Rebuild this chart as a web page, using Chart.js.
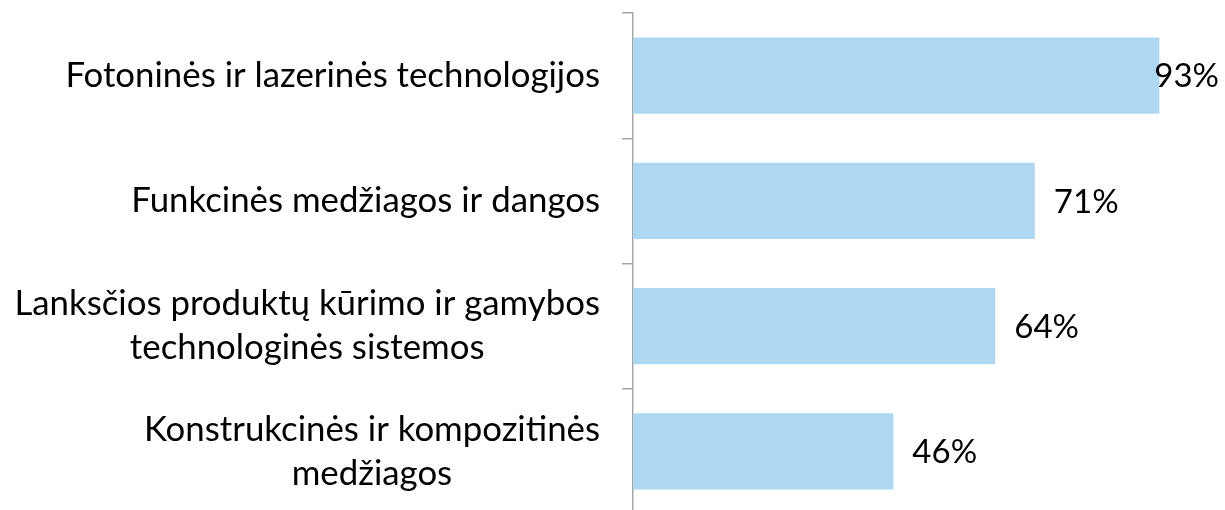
<!DOCTYPE html>
<html>
<head>
<meta charset="utf-8">
<script src="https://cdn.jsdelivr.net/npm/chart.js@4"></script>
<style>
  html, body { margin: 0; padding: 0; background: #ffffff; overflow: hidden; }
  #wrap { width: 1225px; height: 510px; overflow: hidden; position: relative; }
  #box { width: 1225px; height: 520px; position: absolute; left: 0; top: 0; }
</style>
</head>
<body>
<div id="wrap"><div id="box"><canvas id="c"></canvas></div></div>
<script>
const categories = [
  ['Fotoninės ir lazerinės technologijos'],
  ['Funkcinės medžiagos ir dangos'],
  ['Lanksčios produktų kūrimo ir gamybos', 'technologinės sistemos'],
  ['Konstrukcinės ir kompozitinės', 'medžiagos']
];
const values = [93, 71, 64, 46];
const valueSuffix = '%';

const FONT = 'Lato';
const LABEL_SIZE = 34.8;
const VALUE_SIZE = 33;
const LINE_H = 44;
const AXIS_COLOR = '#a6a6a6';

const labelPlugin = {
  id: 'labelPlugin',
  afterDraw(chart) {
    const ctx = chart.ctx;
    const yScale = chart.scales.y;
    const meta = chart.getDatasetMeta(0);
    ctx.save();
    ctx.fillStyle = '#000000';
    ctx.font = LABEL_SIZE + 'px ' + FONT;
    ctx.textBaseline = 'middle';
    // category labels: block right-aligned, lines centered within block
    const rightEdge = chart.chartArea.left - 33;
    categories.forEach((lines, i) => {
      const y = yScale.getPixelForValue(i);
      const w = Math.max(...lines.map(l => ctx.measureText(l).width));
      const cx = rightEdge - w / 2;
      ctx.textAlign = 'center';
      lines.forEach((l, k) => {
        ctx.fillText(l, cx, y + (k - (lines.length - 1) / 2) * LINE_H);
      });
    });
    // value labels
    ctx.font = VALUE_SIZE + 'px ' + FONT;
    ctx.textAlign = 'left';
    meta.data.forEach((bar, i) => {
      const t = values[i] + valueSuffix;
      const w = ctx.measureText(t).width;
      const x = Math.min(bar.x + 19, chart.width - 6 - w);
      ctx.fillText(t, x, bar.y + 1);
    });
    ctx.restore();
  }
};

new Chart(document.getElementById('c'), {
  type: 'bar',
  data: {
    labels: categories,
    datasets: [{
      data: values,
      backgroundColor: '#aed8f1',
      borderWidth: 0,
      categoryPercentage: 1,
      barPercentage: 0.608
    }]
  },
  options: {
    indexAxis: 'y',
    responsive: true,
    maintainAspectRatio: false,
    animation: false,
    events: [],
    layout: { padding: { top: 13, bottom: 6, left: 0, right: 26 } },
    plugins: { legend: { display: false }, tooltip: { enabled: false } },
    scales: {
      x: { display: false, min: 0, max: 100 },
      y: {
        position: 'left',
        afterFit(scale) { scale.width = 633; },
        ticks: { display: false },
        grid: {
          drawOnChartArea: false,
          drawTicks: true,
          tickLength: 11,
          color: AXIS_COLOR,
          lineWidth: 1.5,
          offset: true
        },
        border: { display: true, color: AXIS_COLOR, width: 1.5 }
      }
    }
  },
  plugins: [labelPlugin]
});
</script>
</body>
</html>
